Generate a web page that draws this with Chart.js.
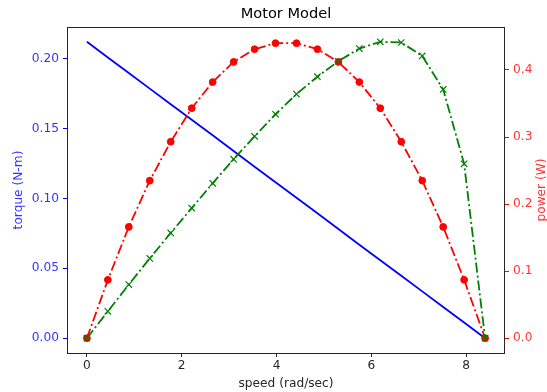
<!DOCTYPE html>
<html>
<head>
<meta charset="utf-8">
<title>Motor Model</title>
<script src="https://cdn.jsdelivr.net/npm/chart.js@4.4.1/dist/chart.umd.min.js"></script>
<style>
    body { margin: 0; background: #fff; }
    #wrap { width: 547px; height: 392px; }
</style>
</head>
<body>
<div id="wrap"><canvas id="motor-chart" width="547" height="392"></canvas></div>
<script>
// Values
const speed = [0, 0.442, 0.884, 1.326, 1.768, 2.211, 2.653, 3.095, 3.537, 3.979,
               4.421, 4.863, 5.305, 5.747, 6.189, 6.632, 7.074, 7.516, 7.958, 8.4];
const torque = [0.212, 0.2008, 0.1897, 0.1785, 0.1674, 0.1562, 0.1451, 0.1339, 0.1227, 0.1116,
                0.1004, 0.0893, 0.0781, 0.0669, 0.0558, 0.0446, 0.0335, 0.0223, 0.0112, 0];
const power = [0, 0.087, 0.166, 0.235, 0.293, 0.343, 0.382, 0.412, 0.431, 0.440,
               0.440, 0.431, 0.412, 0.382, 0.343, 0.293, 0.235, 0.166, 0.087, 0];
const efficiency = [0, 0.040, 0.080, 0.119, 0.157, 0.194, 0.231, 0.267, 0.301, 0.334,
                    0.364, 0.390, 0.413, 0.432, 0.442, 0.441, 0.421, 0.371, 0.260, 0];

const xTicks = [0, 2, 4, 6, 8];
const torqueTicks = [0, 0.05, 0.10, 0.15, 0.20];
const powerTicks = [0, 0.1, 0.2, 0.3, 0.4];

const FONT = 'DejaVu Sans';
const tickFont = { family: FONT, size: 12.2 };

function pts(ys) {
    return speed.map((x, i) => ({ x: x, y: ys[i] }));
}

function fixedTicks(values) {
    return function(axis) {
        axis.ticks = values.map(v => ({ value: v }));
    };
}

// frame around the plot area, the title and the right axis label
const framePlugin = {
    id: 'frame',
    afterDraw(chart) {
        const a = chart.chartArea;
        const ctx = chart.ctx;
        ctx.save();
        ctx.strokeStyle = '#262626';
        ctx.lineWidth = 1;
        ctx.strokeRect(Math.round(a.left) + 0.5, Math.round(a.top) + 0.5,
                       Math.round(a.right - a.left) - 1, Math.round(a.bottom - a.top));
        ctx.fillStyle = '#000';
        ctx.font = '14.6px "' + FONT + '"';
        ctx.textAlign = 'center';
        ctx.textBaseline = 'middle';
        ctx.fillText('Motor Model', (a.left + a.right) / 2, 14);

        // matplotlib keeps the twin label reading bottom to top
        ctx.translate(542, (a.top + a.bottom) / 2);
        ctx.rotate(-Math.PI / 2);
        ctx.fillStyle = '#ff3333';
        ctx.font = '12.2px "' + FONT + '"';
        ctx.fillText('power (W)', 0, 0);
        ctx.restore();
    }
};

new Chart(document.getElementById('motor-chart'), {
    type: 'line',
    data: {
        datasets: [
            {
                label: 'torque',
                data: pts(torque),
                yAxisID: 'y',
                borderColor: '#0000ff',
                borderWidth: 1.8,
                pointRadius: 0,
                fill: false,
                tension: 0,
                order: 3
            },
            {
                label: 'power',
                data: pts(power),
                yAxisID: 'y1',
                borderColor: '#ff0000',
                backgroundColor: '#ff0000',
                borderWidth: 1.8,
                borderDash: [10, 3, 2, 3],
                pointStyle: 'circle',
                pointRadius: 3.4,
                pointBorderWidth: 1,
                pointBorderColor: '#ff0000',
                pointBackgroundColor: '#ff0000',
                fill: false,
                tension: 0,
                order: 2
            },
            {
                label: 'efficiency',
                data: pts(efficiency),
                yAxisID: 'y1',
                borderColor: '#008000',
                borderWidth: 1.8,
                borderDash: [10, 3, 2, 3],
                pointStyle: 'crossRot',
                pointRadius: 4.5,
                pointBorderWidth: 1.2,
                pointBorderColor: '#008000',
                fill: false,
                tension: 0,
                order: 1
            }
        ]
    },
    options: {
        responsive: false,
        animation: false,
        layout: { padding: { top: 27, left: 0, right: 0, bottom: 0 } },
        plugins: {
            legend: { display: false },
            tooltip: { enabled: false }
        },
        scales: {
            x: {
                type: 'linear',
                min: -0.42,
                max: 8.82,
                afterBuildTicks: fixedTicks(xTicks),
                afterFit: s => { s.height = 39; },
                grid: { display: true, drawOnChartArea: false, tickLength: 4, tickColor: '#262626' },
                border: { display: false },
                ticks: {
                    color: '#262626',
                    font: tickFont,
                    padding: 2,
                    maxRotation: 0,
                    callback: v => String(v)
                },
                title: {
                    display: true,
                    text: 'speed (rad/sec)',
                    color: '#262626',
                    font: tickFont,
                    padding: { top: 0, bottom: 1 }
                }
            },
            y: {
                position: 'left',
                min: -0.0106,
                max: 0.2226,
                afterBuildTicks: fixedTicks(torqueTicks),
                afterFit: s => { s.width = 67; },
                grid: { display: true, drawOnChartArea: false, tickLength: 4, tickColor: '#0000ff' },
                border: { display: false },
                ticks: {
                    color: '#3333ff',
                    font: tickFont,
                    padding: 4,
                    callback: v => v.toFixed(2)
                },
                title: {
                    display: true,
                    text: 'torque (N-m)',
                    color: '#3333ff',
                    font: tickFont,
                    padding: { top: 12, bottom: 0 }
                }
            },
            y1: {
                position: 'right',
                min: -0.0221,
                max: 0.4641,
                afterBuildTicks: fixedTicks(powerTicks),
                afterFit: s => { s.width = 42; },
                grid: { display: true, drawOnChartArea: false, tickLength: 4, tickColor: '#ff0000' },
                border: { display: false },
                ticks: {
                    color: '#ff3333',
                    font: tickFont,
                    padding: 4,
                    callback: v => v.toFixed(1)
                },
                title: { display: false }
            }
        }
    },
    plugins: [framePlugin]
});
</script>
</body>
</html>
